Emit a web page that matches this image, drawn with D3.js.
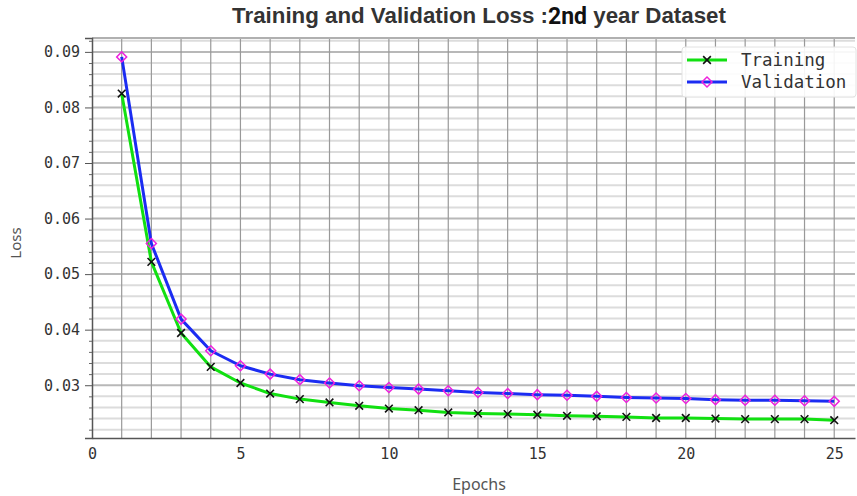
<!DOCTYPE html>
<html>
<head>
<meta charset="utf-8">
<script src="https://cdn.jsdelivr.net/npm/d3@7"></script>
<style>
  body { margin: 0; background: #fff; }
  .tick text { font-family: "DejaVu Sans Mono", monospace; fill: #333; }
</style>
</head>
<body>
<div class="chart"></div>
<script>
// data
const epochs = d3.range(1, 26);
const trainingLoss = [0.0825, 0.0522, 0.0394, 0.0333, 0.0304, 0.0285, 0.0275, 0.0269, 0.0263, 0.0258,
  0.0255, 0.0251, 0.0249, 0.0248, 0.0247, 0.0245, 0.0244, 0.0243, 0.0241, 0.0241,
  0.0240, 0.0239, 0.0239, 0.0239, 0.0237];
const validationLoss = [0.0891, 0.0555, 0.0419, 0.0362, 0.0335, 0.0320, 0.0310, 0.0304, 0.0299, 0.0296,
  0.0293, 0.0290, 0.0287, 0.0285, 0.0283, 0.0282, 0.0280, 0.0278, 0.0277, 0.0276,
  0.0274, 0.0273, 0.0273, 0.0272, 0.0271];
const xTicks = [0, 5, 10, 15, 20, 25];
const yTicks = [0.03, 0.04, 0.05, 0.06, 0.07, 0.08, 0.09];
const seriesNames = ["Training", "Validation"];

// Chart init
const W = 857, H = 496;
const margin = {top: 38, right: 2, bottom: 58, left: 92};
const width = W - margin.left - margin.right;
const height = H - margin.top - margin.bottom;

const svg = d3.select(".chart").append("svg")
    .attr("width", W)
    .attr("height", H)
    .style("font-family", "DejaVu Sans Mono, monospace");

const g = svg.append("g")
    .attr("transform", "translate(" + margin.left + "," + margin.top + ")");

const xScale = d3.scaleLinear().domain([0, 25.7]).range([0, width]);
const yScale = d3.scaleLinear().domain([0.0205, 0.0925]).range([height, 0]);

// === grid ===
const minorY = d3.range(22, 93, 2).map(v => v / 1000).filter(v => !yTicks.some(t => Math.abs(t - v) < 1e-9));
g.append("g").selectAll("line").data(minorY).join("line")
    .attr("x1", 0).attr("x2", width)
    .attr("y1", d => yScale(d)).attr("y2", d => yScale(d))
    .attr("stroke", "#dcdcdc").attr("stroke-width", 2);
g.append("g").selectAll("line").data(yTicks).join("line")
    .attr("x1", 0).attr("x2", width)
    .attr("y1", d => yScale(d)).attr("y2", d => yScale(d))
    .attr("stroke", "#b8b8b8").attr("stroke-width", 2);
g.append("g").selectAll("line").data(d3.range(1, 26)).join("line")
    .attr("x1", d => xScale(d)).attr("x2", d => xScale(d))
    .attr("y1", 0).attr("y2", height)
    .attr("stroke", "#999").attr("stroke-width", 1.2);
// top border
g.append("line").attr("x1", 0).attr("x2", width).attr("y1", 0).attr("y2", 0)
    .attr("stroke", "#b0b0b0").attr("stroke-width", 2);

// === axes ===
const xAxis = d3.axisBottom(xScale).tickValues(xTicks).tickSize(0).tickPadding(10);
const yAxis = d3.axisLeft(yScale).tickValues(yTicks).tickSize(7).tickPadding(5).tickFormat(d3.format(".2f"));

const gx = g.append("g")
    .attr("transform", "translate(0," + height + ")")
    .call(xAxis);
const gy = g.append("g").call(yAxis);
g.append("g").call(d3.axisLeft(yScale).tickValues(minorY).tickSize(3).tickFormat(""))
    .call(s => s.select(".domain").remove())
    .selectAll("line").attr("stroke", "#666");

[gx, gy].forEach(a => {
    a.select(".domain").attr("stroke", "#555").attr("stroke-width", 1.5);
    a.selectAll(".tick line").attr("stroke", "#555");
    a.selectAll(".tick text").attr("font-size", 15).attr("fill", "#333");
});

// === lines ===
const lineT = d3.line().x((d, i) => xScale(epochs[i])).y(d => yScale(d));
g.append("path").datum(trainingLoss)
    .attr("fill", "none").attr("stroke", "#11e011").attr("stroke-width", 3)
    .attr("stroke-linejoin", "round").attr("d", lineT);
g.append("path").datum(validationLoss)
    .attr("fill", "none").attr("stroke", "#1b2cf2").attr("stroke-width", 3)
    .attr("stroke-linejoin", "round").attr("d", lineT);

const crossSym = d3.symbol().type(d3.symbolX).size(40);
const diamondSym = d3.symbol().type(d3.symbolSquare).size(50);

g.append("g").selectAll("path").data(trainingLoss).join("path")
    .attr("transform", (d, i) => "translate(" + xScale(epochs[i]) + "," + yScale(d) + ")")
    .attr("d", crossSym)
    .attr("stroke", "#111").attr("stroke-width", 1.6).attr("fill", "none");
g.append("g").selectAll("path").data(validationLoss).join("path")
    .attr("transform", (d, i) => "translate(" + xScale(epochs[i]) + "," + yScale(d) + ") rotate(45)")
    .attr("d", diamondSym)
    .attr("stroke", "#ee22dd").attr("stroke-width", 1.5).attr("fill", "none");

// === legend ===
const legend = svg.append("g").attr("transform", "translate(682,47)");
legend.append("rect")
    .attr("width", 174).attr("height", 50).attr("rx", 3)
    .attr("fill", "#fff").attr("fill-opacity", 0.9)
    .attr("stroke", "#e2e2e2");
const legColors = ["#11e011", "#1b2cf2"];
seriesNames.forEach((name, i) => {
    const row = legend.append("g").attr("transform", "translate(0," + (13 + i * 22) + ")");
    row.append("line").attr("x1", 5).attr("x2", 45)
        .attr("stroke", legColors[i]).attr("stroke-width", 3);
    if (i === 0) {
        row.append("path").attr("transform", "translate(25,0)").attr("d", crossSym)
            .attr("stroke", "#111").attr("stroke-width", 1.6).attr("fill", "none");
    } else {
        row.append("path").attr("transform", "translate(25,0) rotate(45)").attr("d", diamondSym)
            .attr("stroke", "#ee22dd").attr("stroke-width", 1.5).attr("fill", "none");
    }
    row.append("text").attr("x", 59).attr("y", 6)
        .attr("font-size", 17.5).attr("fill", "#333")
        .text(name);
});

// === titles ===
const title = svg.append("text")
    .attr("x", 479).attr("y", 23)
    .attr("text-anchor", "middle")
    .attr("font-family", "Liberation Sans, Arial, sans-serif")
    .attr("font-weight", "bold")
    .attr("font-size", 22.3)
    .attr("fill", "#333");
title.append("tspan").text("Training and Validation Loss :");
title.append("tspan").attr("font-family", "Roboto, sans-serif").attr("font-size", 23)
    .attr("dy", 1).attr("fill", "#111").text("2nd");
title.append("tspan").attr("dy", -1).text(" year Dataset");

svg.append("text")
    .attr("x", 479).attr("y", 490)
    .attr("text-anchor", "middle")
    .attr("font-family", "Noto Sans, sans-serif")
    .attr("font-size", 16).attr("fill", "#555")
    .text("Epochs");

svg.append("text")
    .attr("transform", "translate(21,243) rotate(-90)")
    .attr("text-anchor", "middle")
    .attr("font-family", "Noto Sans, sans-serif")
    .attr("font-size", 15).attr("fill", "#555")
    .text("Loss");
</script>
</body>
</html>
